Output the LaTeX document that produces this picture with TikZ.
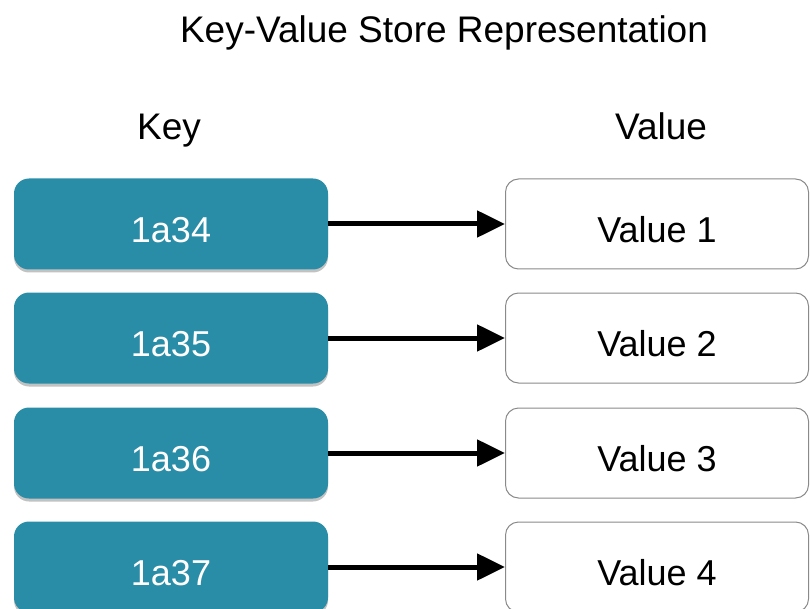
\documentclass[tikz,border=0pt]{standalone}
\usepackage{fontspec}
\setmainfont{Liberation Sans}
\usetikzlibrary{arrows.meta,shadows}
\definecolor{keyteal}{HTML}{2A8DA7}
\definecolor{valborder}{HTML}{8A8A8A}
\tikzset{
  keybox/.style={draw=none, fill=keyteal, rounded corners=15pt, minimum width=314pt, minimum height=91pt,
    text=white, font=\fontsize{36}{40}\selectfont, inner sep=0pt, text height=37pt, text depth=0pt,
    drop shadow={shadow xshift=0pt, shadow yshift=-3pt, opacity=0.4, fill=black!60}},
  valbox/.style={draw=valborder, line width=1pt, fill=white, rounded corners=13pt, minimum width=303pt, minimum height=90pt,
    text=black, font=\fontsize{36}{40}\selectfont, inner sep=0pt, text height=37pt, text depth=0pt},
  hdr/.style={font=\fontsize{37}{41}\selectfont, inner sep=0pt, anchor=base},
  link/.style={line width=5pt, -{Triangle[length=28pt,width=26pt]}}
}
\begin{document}
\begin{tikzpicture}[x=1pt,y=-1pt]
\useasboundingbox (0,0) rectangle (810,609);
\node[hdr] (title) at (444,43) {Key-Value Store Representation};
\node[hdr] (keyhdr) at (169,140) {Key};
\node[hdr] (valhdr) at (661,140) {Value};
\foreach \i/\k/\yy in {1/1a34/224,2/1a35/338,3/1a36/453,4/1a37/567}{
  \node[keybox] (k\i) at (171,\yy) {\k};
  \node[valbox] (v\i) at (657,\yy) {Value \i};
  \draw[link] (k\i.east) -- (v\i.west);
}
\end{tikzpicture}
\end{document}
